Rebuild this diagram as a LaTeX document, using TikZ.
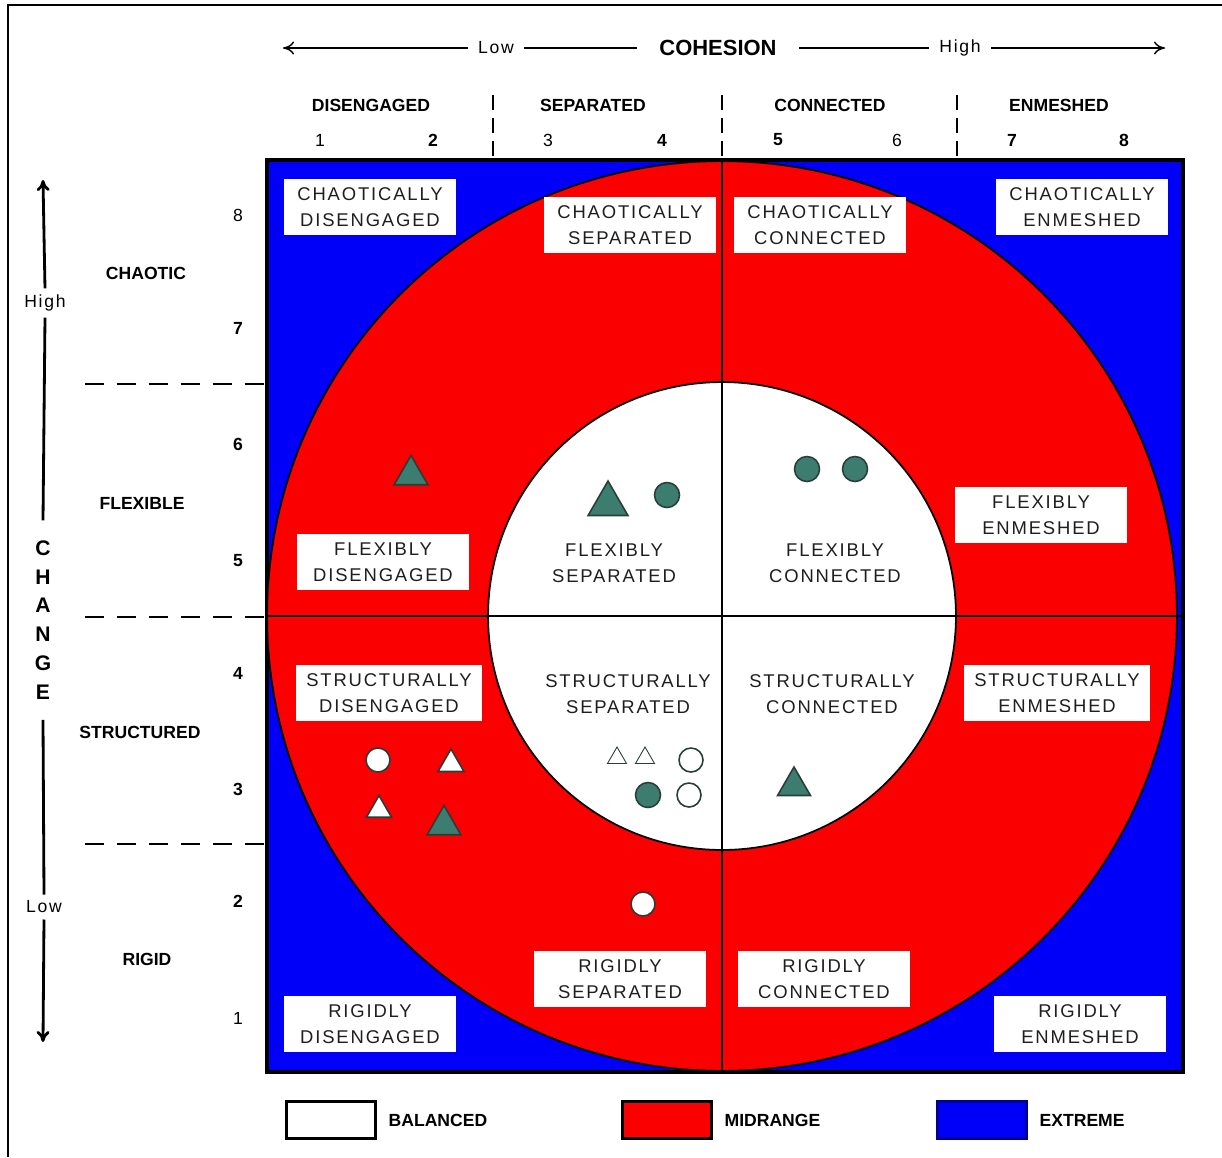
\documentclass[tikz,border=0pt]{standalone}
\usepackage{fontspec}
\setmainfont{Liberation Sans}
\newfontfamily\boxfont[LetterSpace=10]{Liberation Sans}
\usepackage{tikz}
\usetikzlibrary{positioning,shapes.geometric,arrows.meta}
\definecolor{extremeBlue}{RGB}{0,0,250}
\definecolor{midRed}{RGB}{250,0,0}
\definecolor{markTeal}{RGB}{61,125,112}
\definecolor{markEdge}{RGB}{40,62,56}
\definecolor{boxText}{RGB}{30,30,30}

\begin{document}
\begin{tikzpicture}[x=0.02cm,y=-0.02cm,node distance=0.2cm,
	zonetext/.style={align=center,text=boxText,font=\boxfont\fontsize{10.5}{14.8}\selectfont,inner sep=0pt},
	zone/.style={zonetext,fill=white,inner xsep=0.2cm,minimum width=3.45cm,minimum height=1.12cm},
	head/.style={font=\bfseries\fontsize{10}{12}\selectfont,inner sep=1pt},
	num/.style={font=\fontsize{10}{12}\selectfont,inner sep=1pt},
	bnum/.style={font=\bfseries\fontsize{10}{12}\selectfont,inner sep=1pt},
	axislabel/.style={font=\boxfont\fontsize{10}{12}\selectfont,inner sep=0.2cm},
	axis/.style={line width=0.8pt},
	vaxis/.style={line width=1.6pt},
	band/.style={dashed,dash pattern=on 0.38cm off 0.26cm},
	dotTeal/.style={circle,inner sep=0pt,minimum size=0.5cm,draw=markEdge,fill=markTeal,line width=0.9pt},
	dotWhite/.style={circle,inner sep=0pt,minimum size=0.48cm,draw=markEdge,fill=white,line width=0.9pt},
	triTeal/.style={regular polygon,regular polygon sides=3,inner sep=0pt,draw=markEdge,fill=markTeal,line width=0.9pt},
	triWhite/.style={regular polygon,regular polygon sides=3,inner sep=0pt,draw=markEdge,fill=white,line width=0.9pt},
	triOpen/.style={regular polygon,regular polygon sides=3,inner sep=0pt,draw=markEdge,fill=white,line width=0.5pt},
	keybox/.style={draw=black,line width=1.2pt,minimum width=1.78cm,minimum height=0.74cm,inner sep=0pt},
	keytext/.style={font=\bfseries\fontsize{10}{12}\selectfont,inner sep=1pt}]
	\useasboundingbox (0,0) rectangle (1222,1157);
	\draw[line width=1.2pt] (8,1157) -- (8,5) -- (1222,5);

	\draw[line width=2pt,fill=extremeBlue] (267,160) rectangle (1183,1072);
	\draw[line width=1pt,fill=midRed] (722,616) circle [radius=9.1cm];
	\draw[line width=1pt,fill=white] (722,616) circle [radius=4.68cm];
	\draw[line width=0.9pt] (722,160) -- (722,1072);
	\draw[line width=0.9pt] (267,616) -- (1183,616);

	\node[axislabel] (nodeLowTop) at (496,48) {Low};
	\node[font=\bfseries\fontsize{12.5}{14}\selectfont,inner xsep=0.45cm] (nodeCohesion) at (718,48) {COHESION};
	\node[axislabel] (nodeHighTop) at (960,48) {High};
	\coordinate (cohLeft) at (283,48);
	\coordinate (cohRight) at (1165,48);
	\draw[axis,-{To[length=2.2mm,width=2.6mm]}] (nodeLowTop.west) -- (cohLeft);
	\draw[axis] (nodeLowTop.east) -- (nodeCohesion.west);
	\draw[axis] (nodeCohesion.east) -- (nodeHighTop.west);
	\draw[axis,-{To[length=2.2mm,width=2.6mm]}] (nodeHighTop.east) -- (cohRight);

	\node[head] (nodeDis) at (371,105) {DISENGAGED};
	\node[head] (nodeSep) at (593,105) {SEPARATED};
	\node[head] (nodeCon) at (830,105) {CONNECTED};
	\node[head] (nodeEnm) at (1059,105) {ENMESHED};
	\foreach \xx in {493,722,957}
		\draw[line width=0.8pt,dash pattern=on 0.3cm off 0.16cm] (\xx,95) -- (\xx,160);
	\foreach \n/\xx/\st in {1/320/num,2/433/bnum,3/548/num,4/662/bnum,5/778/bnum,6/897/num,7/1012/bnum,8/1124/bnum}
		\node[\st] (nodeCol\n) at (\xx,140) {\n};
	\foreach \n/\yy/\st in {8/215/num,7/328/bnum,6/444/bnum,5/561/bnum,4/673/bnum,3/789/bnum,2/901/bnum,1/1018/num}
		\node[\st] (nodeRow\n) at (238,\yy) {\n};

	\node[head] (nodeChaotic) at (146,273) {CHAOTIC};
	\node[head] (nodeFlexible) at (142,503) {FLEXIBLE};
	\node[head] (nodeStructured) at (140,732) {STRUCTURED};
	\node[head] (nodeRigid) at (147,959) {RIGID};
	\draw[band,line width=1.6pt] (85,384) -- (267,384);
	\draw[band,line width=1pt] (85,617) -- (267,617);
	\draw[band,line width=1pt] (85,844) -- (267,844);

	\node[axislabel,inner sep=0.12cm] (nodeHighSide) at (45,303) {High};
	\node[font=\bfseries\fontsize{12}{16.4}\selectfont,align=center,inner xsep=0pt,inner ysep=0.4cm] (nodeChange) at (43,620) {C\\H\\A\\N\\G\\E};
	\node[axislabel,inner sep=0.12cm] (nodeLowSide) at (44,907) {Low};
	\coordinate (chgTop) at (43,180);
	\coordinate (chgBottom) at (43,1042);
	\draw[vaxis,-{To[length=2.2mm,width=2.6mm]}] (nodeHighSide.north) -- (chgTop);
	\draw[vaxis] (nodeHighSide.south) -- (nodeChange.north);
	\draw[vaxis] (nodeChange.south) -- (nodeLowSide.north);
	\draw[vaxis,-{To[length=2.2mm,width=2.6mm]}] (nodeLowSide.south) -- (chgBottom);

	\node[zone] (nodeChaDis) at (370,207) {CHAOTICALLY\\DISENGAGED};
	\node[zone] (nodeChaSep) at (630,225) {CHAOTICALLY\\SEPARATED};
	\node[zone] (nodeChaCon) at (820,225) {CHAOTICALLY\\CONNECTED};
	\node[zone] (nodeChaEnm) at (1082,207) {CHAOTICALLY\\ENMESHED};
	\node[zone] (nodeFlxEnm) at (1041,515) {FLEXIBLY\\ENMESHED};
	\node[zone] (nodeFlxDis) at (383,562) {FLEXIBLY\\DISENGAGED};
	\node[zonetext] (nodeFlxSep) at (614,563) {FLEXIBLY\\SEPARATED};
	\node[zonetext] (nodeFlxCon) at (835,563) {FLEXIBLY\\CONNECTED};
	\node[zone] (nodeStrDis) at (389,693) {STRUCTURALLY\\DISENGAGED};
	\node[zonetext] (nodeStrSep) at (628,694) {STRUCTURALLY\\SEPARATED};
	\node[zonetext] (nodeStrCon) at (832,694) {STRUCTURALLY\\CONNECTED};
	\node[zone] (nodeStrEnm) at (1057,693) {STRUCTURALLY\\ENMESHED};
	\node[zone] (nodeRigSep) at (620,979) {RIGIDLY\\SEPARATED};
	\node[zone] (nodeRigCon) at (824,979) {RIGIDLY\\CONNECTED};
	\node[zone] (nodeRigDis) at (370,1024) {RIGIDLY\\DISENGAGED};
	\node[zone] (nodeRigEnm) at (1080,1024) {RIGIDLY\\ENMESHED};

	\node[triTeal,minimum size=0.78cm] (markA) at (411,475) {};
	\node[triTeal,minimum size=0.92cm] (markB) at (608,504) {};
	\node[dotTeal] (markC) at (667,495) {};
	\node[dotTeal] (markD) at (807,469) {};
	\node[dotTeal] (markE) at (855,469) {};
	\node[dotWhite] (markF) at (378,760) {};
	\node[triWhite,minimum size=0.6cm] (markG) at (451,764) {};
	\node[triWhite,minimum size=0.58cm] (markH) at (379,810) {};
	\node[triTeal,minimum size=0.78cm] (markI) at (444,825) {};
	\node[triOpen,minimum size=0.44cm] (markJ) at (617,758) {};
	\node[triOpen,minimum size=0.44cm] (markK) at (645,758) {};
	\node[dotWhite] (markL) at (691,760) {};
	\node[dotTeal] (markM) at (648,795) {};
	\node[dotWhite] (markN) at (689,795) {};
	\node[triTeal,minimum size=0.76cm] (markO) at (794,786) {};
	\node[dotWhite] (markP) at (643,904) {};

	\node[keybox,fill=white] (nodeKeyBal) at (331,1120) {};
	\node[keytext] (nodeTxtBal) [right = of nodeKeyBal] {BALANCED};
	\node[keybox,fill=midRed] (nodeKeyMid) at (667,1120) {};
	\node[keytext] (nodeTxtMid) [right = of nodeKeyMid] {MIDRANGE};
	\node[keybox,fill=extremeBlue,draw=extremeBlue!60!black] (nodeKeyExt) at (982,1120) {};
	\node[keytext] (nodeTxtExt) [right = of nodeKeyExt] {EXTREME};
\end{tikzpicture}
\end{document}
